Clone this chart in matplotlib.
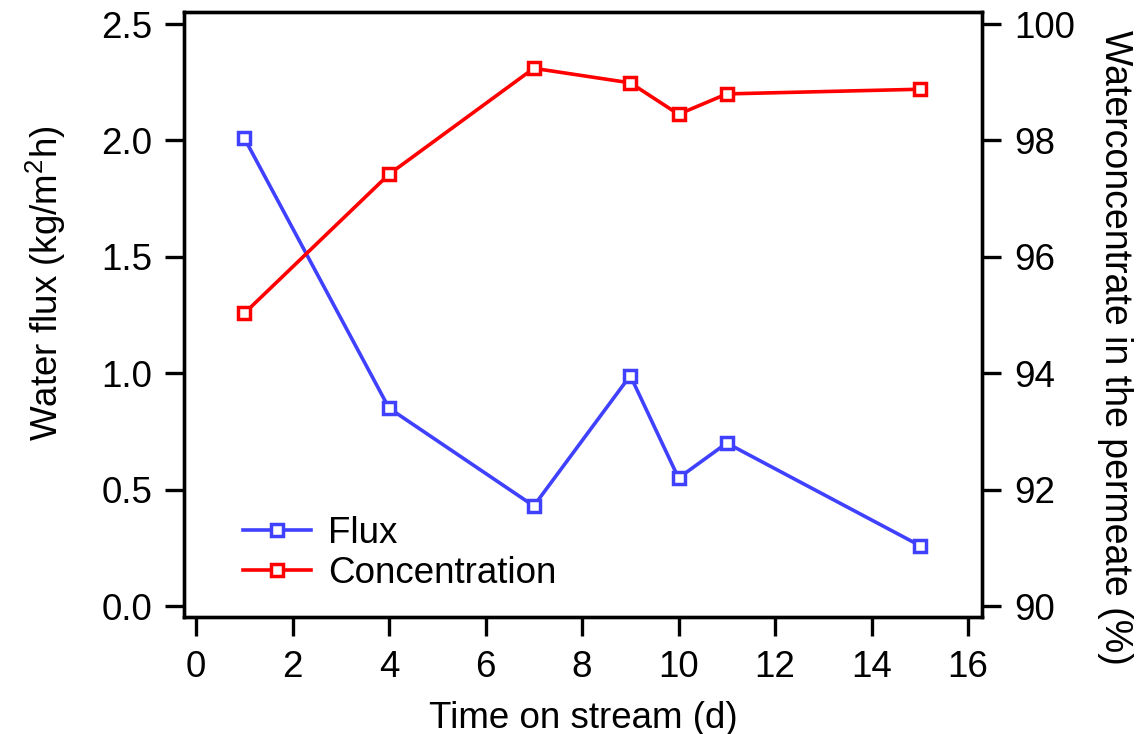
import matplotlib
matplotlib.use("Agg")
import matplotlib.pyplot as plt

# time on stream (d)
days = [1, 4, 7, 9, 10, 11, 15]
# water flux (kg/m2h)
flux = [2.01, 0.85, 0.43, 0.99, 0.55, 0.70, 0.26]
# water concentration in permeate (%)
conc = [95.03, 97.42, 99.24, 98.99, 98.45, 98.80, 98.88]

xticks = [0, 2, 4, 6, 8, 10, 12, 14, 16]
yticks_left = [0.0, 0.5, 1.0, 1.5, 2.0, 2.5]
yticks_right = [90, 92, 94, 96, 98, 100]

BLUE = "#4040ff"
RED = "#ff0000"
FS = 26.5

plt.rcParams["font.family"] = ["Liberation Sans", "DejaVu Sans"]
plt.rcParams["mathtext.fontset"] = "custom"
plt.rcParams["mathtext.rm"] = "Liberation Sans"

fig = plt.figure(figsize=(11.38, 7.34), dpi=100)
ax = fig.add_axes([0.1617, 0.1594, 0.7012, 0.8243])
ax2 = ax.twinx()

l1, = ax.plot(days, flux, color=BLUE, lw=2.6, marker="s", ms=9, mew=2.5,
              mfc="white", mec=BLUE, label="Flux")
l2, = ax2.plot(days, conc, color=RED, lw=2.6, marker="s", ms=9, mew=2.5,
               mfc="white", mec=RED, label="Concentration")

ax.set_xlim(-0.25, 16.29)
ax.set_ylim(-0.047, 2.552)
ax2.set_ylim(90 - 0.47 * 0.4, 90 + 2.552 * 4)

ax.set_xticks(xticks)
ax.set_yticks(yticks_left)
ax.set_yticklabels([f"{v:.1f}" for v in yticks_left])
ax2.set_yticks(yticks_right)

for a in (ax, ax2):
    for s in a.spines.values():
        s.set_linewidth(2.4)
    a.tick_params(direction="out", length=14, width=2.4, labelsize=FS)
ax.tick_params(axis="y", pad=9)
ax.tick_params(axis="x", pad=10)
ax2.tick_params(axis="y", pad=9)

ax.set_xlabel("Time on stream (d)", fontsize=FS, labelpad=11)
ax.set_ylabel(r"Water flux (kg/m$^{2}$h)", fontsize=FS, labelpad=24)
ax.yaxis.label.set_y(0.552)
ax2.set_ylabel("Waterconcentrate in the permeate (%)", fontsize=27,
               rotation=-90, labelpad=42)
ax2.yaxis.label.set_y(0.446)

ax.legend([l1, l2], ["Flux", "Concentration"], loc="lower left",
          bbox_to_anchor=(0.0325, -0.012), frameon=False, fontsize=FS,
          handlelength=1.85, handletextpad=0.45, labelspacing=0.15)

fig.savefig("out.png", dpi=100)
